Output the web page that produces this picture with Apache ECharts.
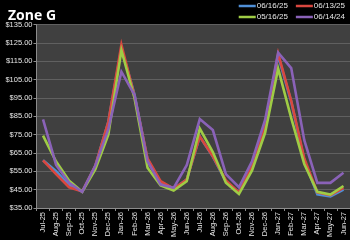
<!DOCTYPE html>
<html>
<head>
<meta charset="utf-8">
<script src="https://cdn.jsdelivr.net/npm/echarts@6/dist/echarts.min.js"></script>
<style>
html,body{margin:0;padding:0;background:#000;}
#c{width:350px;height:240px;}
</style>
</head>
<body>
<div id="c"></div>
<script>
var categories = ['Jul-25','Aug-25','Sep-25','Oct-25','Nov-25','Dec-25','Jan-26','Feb-26','Mar-26','Apr-26','May-26','Jun-26','Jul-26','Aug-26','Sep-26','Oct-26','Nov-26','Dec-26','Jan-27','Feb-27','Mar-27','Apr-27','May-27','Jun-27'];
var s061625 = [61, 55, 47.5, 44, 58, 82, 122, 97, 61.5, 49, 45.5, 50.5, 74, 63, 49.5, 43.5, 57.5, 80, 118, 93, 61, 42.5, 41.3, 45];
var s061325 = [61, 53.5, 46.3, 44, 58, 82, 124, 96, 62, 49.6, 45.5, 50.5, 74, 63.2, 50, 43.5, 57.5, 80, 119.2, 93.5, 62, 43.5, 42, 46];
var s051625 = [74.5, 60.3, 49.8, 43.8, 56, 75, 121, 95, 57, 47.3, 44.5, 49.6, 78.3, 65.5, 48.8, 42.6, 55.5, 76, 111, 84, 59, 43.8, 42.3, 47];
var s061424 = [83.3, 58.5, 48.7, 43.8, 58, 78, 109.3, 96.7, 60.5, 47.8, 46, 58.3, 83.5, 77.5, 53.5, 46.3, 60.5, 83, 119.7, 111.3, 72, 48.7, 48.7, 54.2];
var seriesNames = ['06/16/25','06/13/25','05/16/25','06/14/24'];
var yTicks = [35, 45, 55, 65, 75, 85, 95, 105, 115, 125, 135];

var colors = ['#4f8fd6','#d9473f','#9fcc45','#8a62b8'];
var allData = [s061625, s061325, s051625, s061424];

var chart = echarts.init(document.getElementById('c'), null, {renderer:'canvas'});
var series = allData.map(function(d, i){
  return {
    name: seriesNames[i], type: 'line', data: d, symbol: 'none', showSymbol: false,
    lineStyle: {width: 2.6, color: colors[i], join: 'miter'},
    itemStyle: {color: colors[i]}, animation: false, z: 2 + i
  };
});
var legendText = {color: '#e6e6e6', fontSize: 8, fontFamily: 'Liberation Sans', padding: [0, 0, 0, -4]};
chart.setOption({
  backgroundColor: '#000',
  animation: false,
  title: {text: 'Zone G', left: 3, top: 4, textStyle: {color: '#ffffff', fontSize: 14, fontWeight: 'bold', fontFamily: 'Open Sans'}},
  legend: [
    {data: [seriesNames[0], seriesNames[1]], right: 5, top: 2, icon: 'rect', itemWidth: 17, itemHeight: 2.5, itemGap: 8, textStyle: legendText, padding: 0},
    {data: [seriesNames[2], seriesNames[3]], right: 5, top: 13, icon: 'rect', itemWidth: 17, itemHeight: 2.5, itemGap: 8, textStyle: legendText, padding: 0}
  ],
  grid: {left: 36.5, right: 0, top: 24.6, bottom: 31.4, show: true, backgroundColor: '#404040', borderWidth: 0},
  xAxis: {
    type: 'category', data: categories, boundaryGap: true,
    axisLine: {lineStyle: {color: '#8c8c8c', width: 1}},
    axisTick: {show: true, alignWithLabel: false, length: 3, lineStyle: {color: '#8c8c8c'}},
    axisLabel: {rotate: 90, interval: 0, color: '#e6e6e6', fontSize: 7.5, fontFamily: 'Liberation Sans', margin: 4}
  },
  yAxis: {
    type: 'value', min: yTicks[0], max: yTicks[yTicks.length - 1], interval: 10,
    axisLine: {show: true, lineStyle: {color: '#8c8c8c', width: 1}},
    axisTick: {show: true, length: 3, lineStyle: {color: '#8c8c8c'}},
    splitLine: {lineStyle: {color: '#606060', width: 1}},
    axisLabel: {color: '#e6e6e6', fontSize: 7.5, fontFamily: 'Liberation Sans', margin: 4,
      formatter: function(v){ return '$' + v.toFixed(2); }}
  },
  series: series
});
</script>
</body>
</html>
